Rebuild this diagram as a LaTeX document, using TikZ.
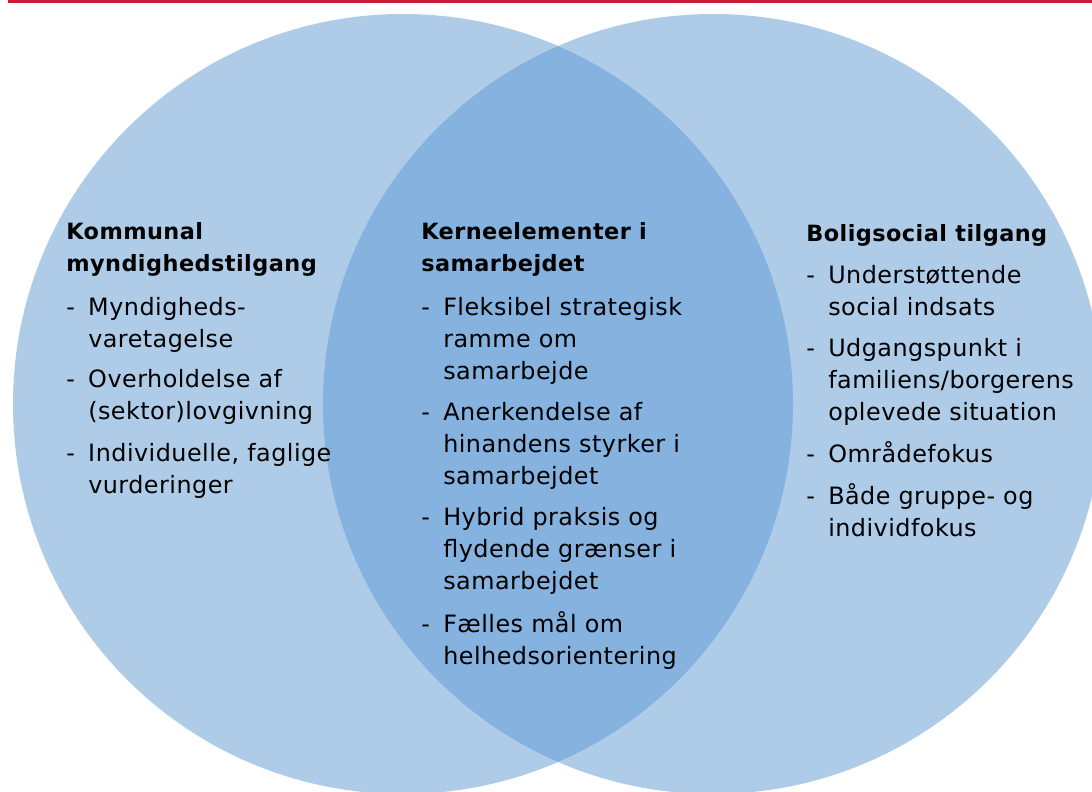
\documentclass[tikz,border=0pt]{standalone}
\usepackage{fontspec}
\setmainfont{DejaVu Sans}[LetterSpace=2]
\definecolor{lightblue}{RGB}{174,204,232}
\definecolor{midblue}{RGB}{133,178,222}
\definecolor{topred}{RGB}{198,28,52}
\newcommand\itemtext[1]{\makebox[16.5pt][l]{-}\parbox[t]{250pt}{\raggedright #1}}
\newcommand\headtext[1]{\parbox[t]{260pt}{\raggedright\fontsize{16.8pt}{24pt}\selectfont\bfseries #1}}
\tikzset{
  txt/.style={inner sep=0pt, anchor=base west, font=\fontsize{17.9pt}{24pt}\selectfont},
}
\begin{document}
\begin{tikzpicture}[x=0.75pt,y=-0.75pt]
\clip (0,0) rectangle (1092,792);
\fill[white] (0,0) rectangle (1092,792);
\fill[topred] (8,0) rectangle (1092,3.5);
% circles
\fill[lightblue] (403,404) circle (390);
\fill[lightblue] (713,404) circle (390);
\begin{scope}
  \clip (403,404) circle (390);
  \fill[midblue] (713,404) circle (390);
\end{scope}
% left column
\node[txt] (lh) at (66,239) {\headtext{Kommunal\\myndighedstilgang}};
\node[txt] (l1) at (66,315) {\itemtext{Myndigheds-\\varetagelse}};
\node[txt] (l2) at (66,387) {\itemtext{Overholdelse af\\(sektor)lovgivning}};
\node[txt] (l3) at (66,461) {\itemtext{Individuelle, faglige\\vurderinger}};
% middle column
\node[txt] (mh) at (421,239) {\headtext{Kerneelementer i\\samarbejdet}};
\node[txt] (m1) at (421,315) {\itemtext{Fleksibel strategisk\\ramme om\\samarbejde}};
\node[txt] (m2) at (421,420) {\itemtext{Anerkendelse af\\hinandens styrker i\\samarbejdet}};
\node[txt] (m3) at (421,525) {\itemtext{Hybrid praksis og\\flydende grænser i\\samarbejdet}};
\node[txt] (m4) at (421,632) {\itemtext{Fælles mål om\\helhedsorientering}};
% right column
\node[txt] (rh) at (806,241) {\headtext{Boligsocial tilgang}};
\node[txt] (r1) at (806,283) {\itemtext{Understøttende\\social indsats}};
\node[txt] (r2) at (806,356) {\itemtext{Udgangspunkt i\\familiens/borgerens\\oplevede situation}};
\node[txt] (r3) at (806,462) {\itemtext{Områdefokus}};
\node[txt] (r4) at (806,504) {\itemtext{Både gruppe- og\\individfokus}};
\end{tikzpicture}
\end{document}
